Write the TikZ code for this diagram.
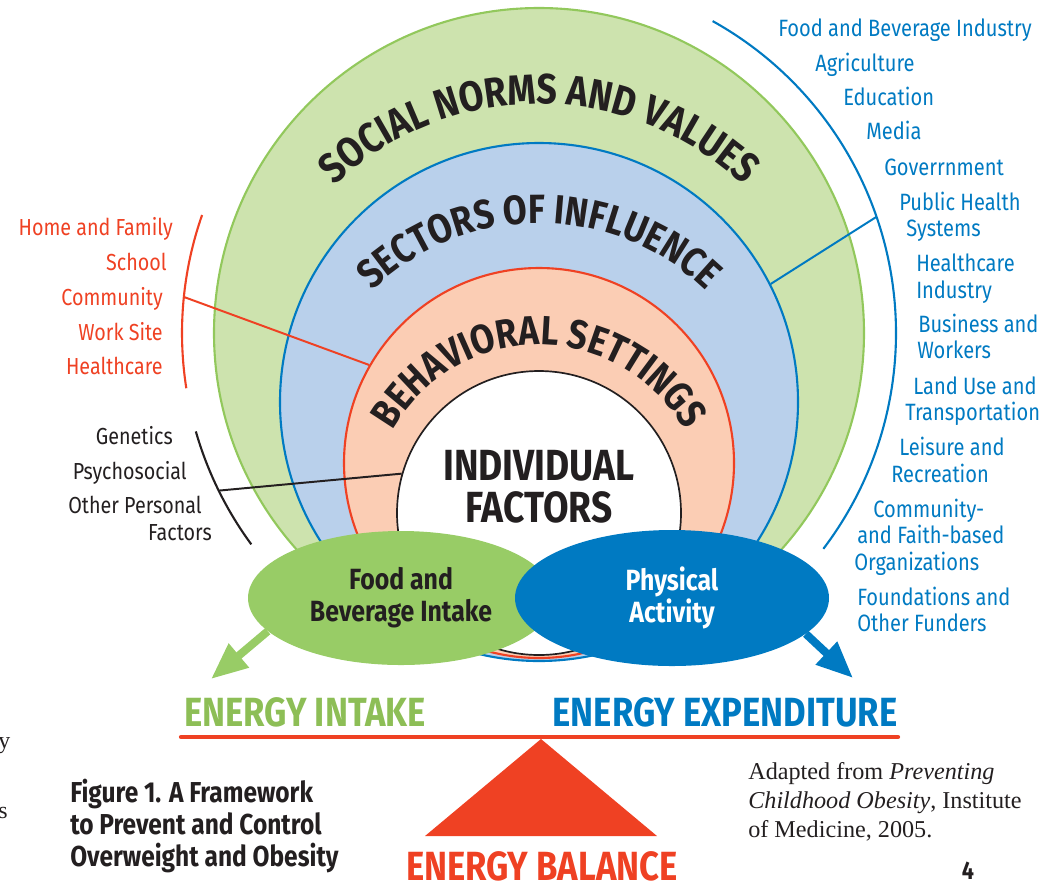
\documentclass[tikz,border=0pt]{standalone}
\usepackage{fontspec}
\setmainfont{Fira Sans}[FakeStretch=0.85]
\newfontfamily\adaptfont{Liberation Serif}
\usetikzlibrary{shapes.geometric,decorations.text,arrows.meta}

\definecolor{ringgreen}{RGB}{205,227,174}
\definecolor{linegreen}{RGB}{146,200,92}
\definecolor{ellgreen}{RGB}{152,204,102}
\definecolor{textgreen}{RGB}{141,190,86}
\definecolor{ringblue}{RGB}{185,208,235}
\definecolor{lineblue}{RGB}{0,122,194}
\definecolor{ringpeach}{RGB}{251,205,180}
\definecolor{linered}{RGB}{239,65,35}
\definecolor{inkdark}{RGB}{35,31,32}

\def\pu{0.025cm}
\newcommand{\fsz}[2]{\fontsize{#1}{#2}\selectfont}

\tikzset{
  ring/.style={circle, inner sep=0pt, line width=1.5pt},
  bracket/.style={line width=1.5pt},
  link/.style={line width=1.4pt},
  redtxt/.style={text=linered, font=\fsz{16.5}{20}, anchor=mid east, inner sep=0pt},
  blktxt/.style={text=inkdark, font=\fsz{16.5}{20}, anchor=mid east, inner sep=0pt},
  bluetxt/.style={text=lineblue, font=\fsz{16.8}{20}, anchor=mid west, inner sep=0pt},
  behaviour/.style={ellipse, inner sep=0pt, align=center, font=\bfseries\fsz{20.8}{22.8}},
  energy/.style={font=\bfseries\fsz{29}{30}, inner sep=0pt},
  outarrow/.style={line width=5.7pt, -{Triangle[length=26pt, width=21pt]}},
}

\begin{document}
\begin{tikzpicture}[x=0.025cm, y=-0.025cm]
    \useasboundingbox (0,0) rectangle (1051,884);
    %rings
    \node[ring, draw=linegreen, fill=ringgreen, minimum size=650*\pu] (social) at (539,333) {};
    \node[ring, draw=lineblue, fill=ringblue, minimum size=518*\pu] (sectors) at (539,402) {};
    \node[ring, draw=linered, fill=ringpeach, minimum size=390*\pu] (behav) at (539,463) {};
    \node[ring, draw=inkdark, fill=white, line width=1.2pt, minimum size=284*\pu] (indiv) at (539,513) {};
    \coordinate (bigC) at (539,333);

    %ring labels
    \path[decorate, decoration={text along path, text align=center, text color=inkdark,
        text={|\bfseries\fsz{30}{30}|SOCIAL NORMS AND VALUES}}]
        ([shift={(sectors)}]-175:298) arc[start angle=-175, end angle=-5, radius=298];
    \path[decorate, decoration={text along path, text align=center, text color=inkdark,
        text={|\bfseries\fsz{29}{29}|SECTORS OF INFLUENCE}}]
        ([shift={(behav)}]-175:240) arc[start angle=-175, end angle=-5, radius=240];
    \path[decorate, decoration={text along path, text align=center, text color=inkdark,
        text={|\bfseries\fsz{29}{29}|BEHAVIORAL SETTINGS}}]
        ([shift={(indiv)}]-178:168) arc[start angle=-178, end angle=-2, radius=168];
    \node[align=center, text=inkdark, font=\bfseries\fsz{31}{30}] (indivText) at (539,487) %
         {INDIVIDUAL\\FACTORS};

    %brackets and links
    \draw[bracket, linered] ([shift={(bigC)}]171.1:357) arc[start angle=171.1, end angle=199.3, radius=357];
    \draw[bracket, inkdark] ([shift={(bigC)}]143.7:357) arc[start angle=143.7, end angle=164, radius=357];
    \draw[bracket, lineblue] ([shift={(bigC)}]-60.9:357) arc[start angle=-60.9, end angle=37.2, radius=357];
    \coordinate (settingsArc) at ([shift={(bigC)}]185.8:357);
    \coordinate (personalArc) at ([shift={(bigC)}]153.8:357);
    \coordinate (sectorsArc) at ([shift={(bigC)}]-19:357);
    \draw[link, linered] (settingsArc) -- (behav.150);
    \draw[link, inkdark] (personalArc) -- (indiv.164);
    \draw[link, lineblue] (sectorsArc) -- (sectors.27);

    %behaviours
    \node[behaviour, fill=ellgreen, text=inkdark, minimum width=306*\pu, minimum height=134*\pu] (food) at (401,598) %
         {Food and\\Beverage Intake};
    \node[behaviour, fill=lineblue, text=white, minimum width=314*\pu, minimum height=136*\pu] (physical) at (672,598) %
         {Physical\\Activity};
    \coordinate (intakeTip) at (211,679);
    \coordinate (expendTip) at (853,678);
    \draw[outarrow, ellgreen] (food.194) -- (intakeTip);
    \draw[outarrow, lineblue] (physical.-15) -- (expendTip);

    %balance
    \node[energy, text=textgreen] (intake) at (305,712) {ENERGY INTAKE};
    \node[energy, text=lineblue] (expend) at (725,712) {ENERGY EXPENDITURE};
    \coordinate (beamL) at (181,737);
    \coordinate (beamR) at (898,737);
    \draw[line width=3pt, linered, line cap=round] (beamL) -- (beamR);
    \fill[linered] (541,739) -- (657,836) -- (425,836) -- cycle;
    \node[energy, text=linered] (balance) at (542,866) {ENERGY BALANCE};

    %left lists
    \node[redtxt] (home) at (173,232) {Home and Family};
    \node[redtxt] (school) at (167,267) {School};
    \node[redtxt] (community) at (163,302) {Community};
    \node[redtxt] (worksite) at (163,337) {Work Site};
    \node[redtxt] (healthcare) at (163,371) {Healthcare};
    \node[blktxt] (genetics) at (173,441) {Genetics};
    \node[blktxt] (psychosocial) at (187,476) {Psychosocial};
    \node[blktxt] (otherpers) at (202,510) {Other Personal};
    \node[blktxt] (factors) at (212,537) {Factors};

    %right list
    \node[bluetxt] (foodind) at (778,33) {Food and Beverage Industry};
    \node[bluetxt] (agri) at (815,68) {Agriculture};
    \node[bluetxt] (edu) at (843,102) {Education};
    \node[bluetxt] (media) at (866,136) {Media};
    \node[bluetxt] (govt) at (884,172) {Goverrnment};
    \node[bluetxt] (pubhealth) at (899,207) {Public Health};
    \node[bluetxt] (systems) at (906,233) {Systems};
    \node[bluetxt] (hcare) at (916,268) {Healthcare};
    \node[bluetxt] (industry) at (916,295) {Industry};
    \node[bluetxt] (business) at (918,329) {Business and};
    \node[bluetxt] (workers) at (917,355) {Workers};
    \node[bluetxt] (landuse) at (913,391) {Land Use and};
    \node[bluetxt] (transport) at (905,417) {Transportation};
    \node[bluetxt] (leisure) at (899,452) {Leisure and};
    \node[bluetxt] (recreation) at (891,479) {Recreation};
    \node[bluetxt] (commfaith) at (873,514) {Community-};
    \node[bluetxt] (faith) at (857,540) {and Faith-based};
    \node[bluetxt] (orgs) at (854,567) {Organizations};
    \node[bluetxt] (found) at (857,602) {Foundations and};
    \node[bluetxt] (funders) at (857,628) {Other Funders};

    %captions
    \node[anchor=west, align=left, inner sep=0pt, text=inkdark, font=\bfseries\fsz{20.5}{22.8}] (figcap) at (70,826) %
         {Figure 1. A Framework\\to Prevent and Control\\Overweight and Obesity};
    \node[anchor=west, align=left, inner sep=0pt, text=inkdark, font=\adaptfont\fsz{17.2}{20.6}] (source) at (748,802) %
         {Adapted from \textit{Preventing}\\\textit{Childhood Obesity}, Institute\\of Medicine, 2005.};
    \node[inner sep=0pt, text=inkdark, font=\bfseries\fsz{18}{20}] (pagenum) at (968,871) {4};
    \node[anchor=mid west, inner sep=0pt, text=inkdark, font=\adaptfont\fsz{17}{20}] (edgey) at (-2,745) {y};
    \node[anchor=mid west, inner sep=0pt, text=inkdark, font=\adaptfont\fsz{17}{20}] (edges) at (-2,815) {s};
\end{tikzpicture}
\end{document}
